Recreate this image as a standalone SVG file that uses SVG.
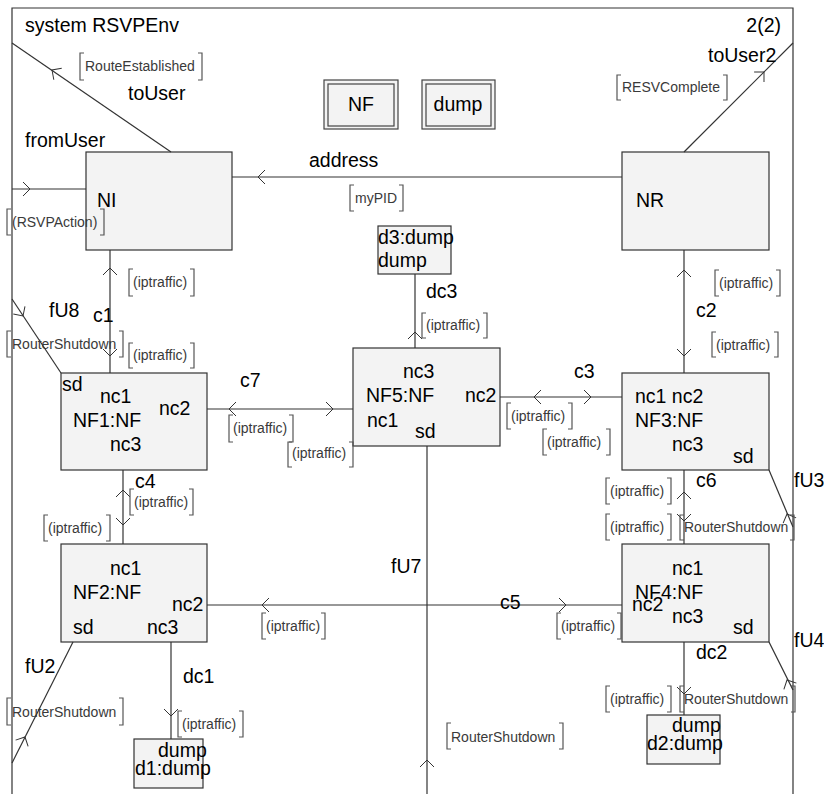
<svg xmlns="http://www.w3.org/2000/svg" xmlns:xlink="http://www.w3.org/1999/xlink" width="824" height="794" viewBox="0 0 824 794">
<style>
text{font-family:"Liberation Sans",Arial,sans-serif;}
.t{font-size:19.5px;fill:#000;}
.s{font-size:14px;fill:#3a3a3a;}
.box{fill:#f3f3f3;stroke:#333;stroke-width:1.2;}
.tb{fill:#f3f3f3;stroke:#444;stroke-width:1.2;}
.ln{fill:none;stroke:#333;stroke-width:1.2;}
.br{fill:none;stroke:#555;stroke-width:1.2;}
.ar{fill:none;stroke:#333;stroke-width:1;}
</style>
<defs>
<path id="chev" d="M-7,7 L0,0 L7,7" class="ar"/>
</defs>
<rect width="824" height="794" fill="#fff"/>
<g id="frame">
<path class="ln" d="M12,794 V8 H793 V794"/>
<text class="t" x="25" y="32">system RSVPEnv</text>
<text class="t" x="781" y="32" text-anchor="end">2(2)</text>
</g>
<g id="type-NF">
<rect class="tb" x="324" y="80" width="74" height="49"/>
<rect class="tb" x="328" y="84" width="66" height="42"/>
<text class="t" x="361" y="111" text-anchor="middle">NF</text>
</g>
<g id="type-dump">
<rect class="tb" x="422" y="80" width="73" height="49"/>
<rect class="tb" x="426" y="84" width="65" height="42"/>
<text class="t" x="458" y="111" text-anchor="middle">dump</text>
</g>
<g id="NI">
<rect class="box" x="86" y="152" width="146" height="98"/>
<text class="t" x="97" y="207">NI</text>
</g>
<g id="NR">
<rect class="box" x="622" y="152" width="147" height="98"/>
<text class="t" x="636" y="207">NR</text>
</g>
<g id="d3">
<rect class="box" x="378" y="226" width="73" height="48"/>
<text class="t" x="378" y="244">d3:dump</text>
<text class="t" x="378" y="267">dump</text>
</g>
<g id="NF1">
<rect class="box" x="61" y="373" width="146" height="97"/>
<text class="t" x="62" y="391">sd</text>
<text class="t" x="100" y="403">nc1</text>
<text class="t" x="159" y="415">nc2</text>
<text class="t" x="73" y="427">NF1:NF</text>
<text class="t" x="110" y="451">nc3</text>
</g>
<g id="NF5">
<rect class="box" x="353" y="348" width="147" height="98"/>
<text class="t" x="403" y="378">nc3</text>
<text class="t" x="366" y="402">NF5:NF</text>
<text class="t" x="465" y="402">nc2</text>
<text class="t" x="367" y="427">nc1</text>
<text class="t" x="415" y="438">sd</text>
</g>
<g id="NF3">
<rect class="box" x="622" y="373" width="147" height="97"/>
<text class="t" x="635" y="403">nc1 nc2</text>
<text class="t" x="635" y="427">NF3:NF</text>
<text class="t" x="672" y="451">nc3</text>
<text class="t" x="733" y="463">sd</text>
</g>
<g id="NF2">
<rect class="box" x="61" y="544" width="146" height="98"/>
<text class="t" x="110" y="575">nc1</text>
<text class="t" x="73" y="599">NF2:NF</text>
<text class="t" x="172" y="611">nc2</text>
<text class="t" x="73" y="634">sd</text>
<text class="t" x="147" y="634">nc3</text>
</g>
<g id="NF4">
<rect class="box" x="622" y="544" width="147" height="98"/>
<text class="t" x="672" y="575">nc1</text>
<text class="t" x="635" y="599">NF4:NF</text>
<text class="t" x="632" y="611">nc2</text>
<text class="t" x="672" y="623">nc3</text>
<text class="t" x="733" y="634">sd</text>
</g>
<g id="d1">
<rect class="box" x="134" y="739" width="69" height="49"/>
<text class="t" x="158" y="757">dump</text>
<text class="t" x="135" y="775">d1:dump</text>
</g>
<g id="d2">
<rect class="box" x="647" y="715" width="73" height="49"/>
<text class="t" x="672" y="732">dump</text>
<text class="t" x="647" y="750">d2:dump</text>
</g>
<g id="connectors">
<line class="ln" x1="12" y1="43" x2="171" y2="152"/>
<use xlink:href="#chev" transform="translate(52,70) rotate(-55.6)"/>
<line class="ln" x1="12" y1="189" x2="86" y2="189"/>
<use xlink:href="#chev" transform="translate(30,189) rotate(90)"/>
<line class="ln" x1="232" y1="177" x2="622" y2="177"/>
<use xlink:href="#chev" transform="translate(258,177) rotate(-90)"/>
<line class="ln" x1="684" y1="152" x2="793" y2="43"/>
<use xlink:href="#chev" transform="translate(764,72) rotate(45)"/>
<line class="ln" x1="110" y1="250" x2="110" y2="373"/>
<use xlink:href="#chev" transform="translate(110,268)"/>
<use xlink:href="#chev" transform="translate(110,356) rotate(180)"/>
<line class="ln" x1="12" y1="299" x2="61" y2="373"/>
<use xlink:href="#chev" transform="translate(23,316) rotate(146.5)"/>
<line class="ln" x1="207" y1="409" x2="353" y2="409"/>
<use xlink:href="#chev" transform="translate(229,409) rotate(-90)"/>
<use xlink:href="#chev" transform="translate(333,409) rotate(90)"/>
<line class="ln" x1="415" y1="274" x2="415" y2="348"/>
<use xlink:href="#chev" transform="translate(415,332)"/>
<line class="ln" x1="500" y1="397" x2="622" y2="397"/>
<use xlink:href="#chev" transform="translate(534,397) rotate(-90)"/>
<use xlink:href="#chev" transform="translate(591,397) rotate(90)"/>
<line class="ln" x1="684" y1="250" x2="684" y2="373"/>
<use xlink:href="#chev" transform="translate(684,270)"/>
<use xlink:href="#chev" transform="translate(684,356) rotate(180)"/>
<line class="ln" x1="769" y1="470" x2="793" y2="527"/>
<use xlink:href="#chev" transform="translate(787,514) rotate(-22)"/>
<line class="ln" x1="684" y1="470" x2="684" y2="544"/>
<use xlink:href="#chev" transform="translate(684,492)"/>
<use xlink:href="#chev" transform="translate(684,521) rotate(180)"/>
<line class="ln" x1="123" y1="470" x2="123" y2="544"/>
<use xlink:href="#chev" transform="translate(123,490)"/>
<use xlink:href="#chev" transform="translate(123,525) rotate(180)"/>
<line class="ln" x1="207" y1="605" x2="622" y2="605"/>
<use xlink:href="#chev" transform="translate(262,605) rotate(-90)"/>
<use xlink:href="#chev" transform="translate(566,605) rotate(90)"/>
<line class="ln" x1="427" y1="446" x2="427" y2="794"/>
<use xlink:href="#chev" transform="translate(427,760)"/>
<line class="ln" x1="73" y1="642" x2="12" y2="763"/>
<use xlink:href="#chev" transform="translate(25,737) rotate(26.7)"/>
<line class="ln" x1="171" y1="642" x2="171" y2="739"/>
<use xlink:href="#chev" transform="translate(171,716) rotate(180)"/>
<line class="ln" x1="684" y1="642" x2="684" y2="715"/>
<use xlink:href="#chev" transform="translate(684,694) rotate(180)"/>
<line class="ln" x1="769" y1="642" x2="793" y2="690"/>
<use xlink:href="#chev" transform="translate(787,680) rotate(-26.6)"/>
<text class="t" x="128" y="100">toUser</text>
<text class="t" x="25" y="147">fromUser</text>
<text class="t" x="309" y="167">address</text>
<text class="t" x="708" y="62">toUser2</text>
<text class="t" x="93" y="322">c1</text>
<text class="t" x="49" y="317">fU8</text>
<text class="t" x="240" y="387">c7</text>
<text class="t" x="426" y="298">dc3</text>
<text class="t" x="574" y="378">c3</text>
<text class="t" x="696" y="317">c2</text>
<text class="t" x="696" y="487">c6</text>
<text class="t" x="794" y="487">fU3</text>
<text class="t" x="135" y="488">c4</text>
<text class="t" x="500" y="609">c5</text>
<text class="t" x="391" y="573">fU7</text>
<text class="t" x="25" y="673">fU2</text>
<text class="t" x="183" y="683">dc1</text>
<text class="t" x="696" y="659">dc2</text>
<text class="t" x="794" y="647">fU4</text>
<g id="signal-labels">
<path class="br" d="M84,53H80V80H84 M198,53H202V80H198"/><text class="s" x="85" y="71">RouteEstablished</text>
<path class="br" d="M621,75H617V100H621 M723,75H727V100H723"/><text class="s" x="622" y="92">RESVComplete</text>
<path class="br" d="M354,185H350V211H354 M399,185H403V211H399"/><text class="s" x="355" y="203">myPID</text>
<path class="br" d="M11,209H7V235H11 M100,209H104V235H100"/><text class="s" x="12" y="227">(RSVPAction)</text>
<path class="br" d="M133,269H129V296H133 M190,269H194V296H190"/><text class="s" x="133" y="287">(iptraffic)</text>
<path class="br" d="M133,343H129V368H133 M190,343H194V368H190"/><text class="s" x="133" y="360">(iptraffic)</text>
<path class="br" d="M11,331H7V357H11 M119,331H123V357H119"/><text class="s" x="12" y="349">RouterShutdown</text>
<path class="br" d="M233,415H229V442H233 M289,415H293V442H289"/><text class="s" x="233" y="433">(iptraffic)</text>
<path class="br" d="M292,442H288V467H292 M349,442H353V467H349"/><text class="s" x="292" y="458">(iptraffic)</text>
<path class="br" d="M426,313H422V338H426 M483,313H487V338H483"/><text class="s" x="426" y="330">(iptraffic)</text>
<path class="br" d="M511,403H507V429H511 M568,403H572V429H568"/><text class="s" x="511" y="421">(iptraffic)</text>
<path class="br" d="M547,429H543V455H547 M606,429H610V455H606"/><text class="s" x="547" y="447">(iptraffic)</text>
<path class="br" d="M719,270H715V296H719 M776,270H780V296H776"/><text class="s" x="719" y="288">(iptraffic)</text>
<path class="br" d="M716,332H712V357H716 M774,332H778V357H774"/><text class="s" x="716" y="350">(iptraffic)</text>
<path class="br" d="M610,478H606V504H610 M667,478H671V504H667"/><text class="s" x="610" y="496">(iptraffic)</text>
<path class="br" d="M610,514H606V540H610 M667,514H671V540H667"/><text class="s" x="610" y="532">(iptraffic)</text>
<path class="br" d="M684,515H680V540H684 M790,515H794V540H790"/><text class="s" x="684" y="532">RouterShutdown</text>
<path class="br" d="M134,489H130V515H134 M189,489H193V515H189"/><text class="s" x="134" y="507">(iptraffic)</text>
<path class="br" d="M48,515H44V541H48 M106,515H110V541H106"/><text class="s" x="48" y="533">(iptraffic)</text>
<path class="br" d="M266,613H262V639H266 M321,613H325V639H321"/><text class="s" x="266" y="631">(iptraffic)</text>
<path class="br" d="M561,613H557V639H561 M617,613H621V639H617"/><text class="s" x="561" y="631">(iptraffic)</text>
<path class="br" d="M451,723H447V749H451 M559,723H563V749H559"/><text class="s" x="451" y="742">RouterShutdown</text>
<path class="br" d="M11,698H7V725H11 M119,698H123V725H119"/><text class="s" x="12" y="717">RouterShutdown</text>
<path class="br" d="M182,711H178V737H182 M239,711H243V737H239"/><text class="s" x="182" y="729">(iptraffic)</text>
<path class="br" d="M610,686H606V712H610 M667,686H671V712H667"/><text class="s" x="610" y="704">(iptraffic)</text>
<path class="br" d="M684,686H680V712H684 M791,686H795V712H791"/><text class="s" x="684" y="704">RouterShutdown</text>
</g>
</g>
</svg>
